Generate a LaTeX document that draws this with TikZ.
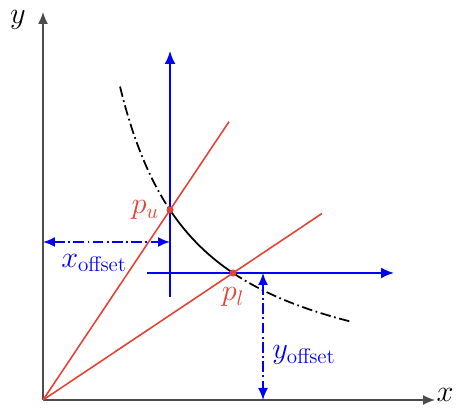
\documentclass[tikz,border=0pt]{standalone}
\usepackage{amsmath,amssymb}
\usepackage{tikz}
\usetikzlibrary{arrows.meta,positioning,calc}
\definecolor{rayred}{RGB}{228,66,52}
\definecolor{axblue}{RGB}{0,0,245}

\begin{document}
\begin{tikzpicture}[
  x=0.02cm, y=0.02cm,
  axis/.style={-{Latex[length=2.4mm,width=2mm]}, line width=0.8pt, black!70},
  bluearrow/.style={-{Latex[length=2.6mm,width=2.2mm]}, line width=1.1pt, axblue},
  offset/.style={{Latex[length=2.4mm,width=2mm]}-{Latex[length=2.4mm,width=2mm]}, line width=1pt, axblue, dash pattern=on 6pt off 2pt on 1pt off 2pt},
  ray/.style={line width=0.9pt, rayred},
  curve/.style={line width=1pt, black},
  lbl/.style={font=\LARGE, inner sep=1pt},
]
\useasboundingbox (-43,-8) rectangle (417,400);
% points
\coordinate (O) at (0,0);
\coordinate (pu) at (127,190);
\coordinate (pl) at (190,127);

% axes
\draw[axis] (O) -- (0,388);
\draw[axis] (O) -- (392,0);
\node[lbl] (ylab) at (-25,380) {$y$};
\node[lbl, anchor=base] (xlab) at (402,-2) {$x$};

% rays through the two points
\draw[ray] (O) -- (pu) -- ($(O)!1.465!(pu)$);
\draw[ray] (O) -- (pl) -- ($(O)!1.468!(pl)$);

% curve x*y = const
\draw[curve, dash pattern=on 6pt off 2pt on 1pt off 2pt] plot[domain=77:127, samples=30] (\x,{100*(241.3/\x)});
\draw[curve] plot[domain=127:190, samples=30] (\x,{100*(241.3/\x)});
\draw[curve, dash pattern=on 6pt off 2pt on 1pt off 2pt] plot[domain=190:309, samples=40] (\x,{100*(241.3/\x)});

% local axes
\draw[bluearrow] (127,103) -- (127,349);
\draw[bluearrow] (104,127) -- (351,127);

% offsets
\coordinate (xo) at (127,158);
\draw[offset] (0,158) -- (xo);
\node[lbl, text=axblue] (xoff) at (51,137) {$x_{\text{offset}}$};
\coordinate (yo) at (220,127);
\draw[offset] (yo) -- (220,0);
\node[lbl, text=axblue] (yoff) at (261,45) {$y_{\text{offset}}$};

% points and labels
\fill[rayred] (pu) circle (2pt);
\fill[rayred] (pl) circle (2pt);
\node[lbl, text=rayred, left=5pt of pu] (pulab) {$p_u$};
\node[lbl, text=rayred, below=7pt of pl] (pllab) {$p_l$};
\end{tikzpicture}
\end{document}
